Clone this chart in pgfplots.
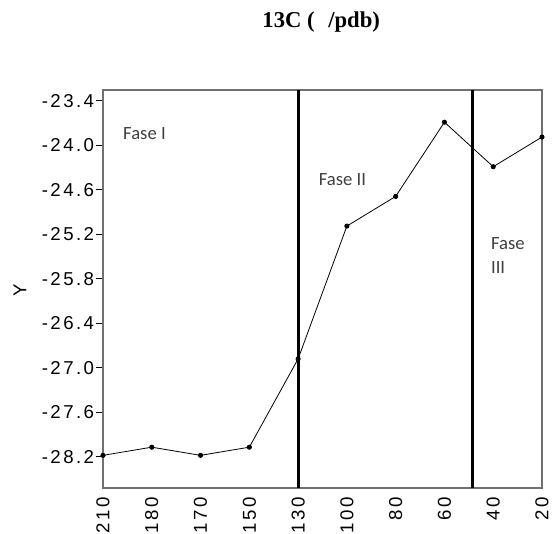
\documentclass[border=0pt]{standalone}
\usepackage{pgfplots}
\pgfplotsset{compat=1.18}
\usepackage{fontspec}
\setmainfont{Liberation Sans}
\newfontfamily\tickfont[LetterSpace=13]{Liberation Sans}
\newfontfamily\fasefont{Carlito}
\newfontfamily\titlefont{Liberation Serif}
\definecolor{framegray}{HTML}{707070}
\definecolor{fasegray}{HTML}{404040}
\begin{document}
\begin{tikzpicture}
\begin{axis}[
  scale only axis,
  width=329.25pt, height=298.5pt,
  xmin=0, xmax=9, ymin=-28.62, ymax=-23.256,
  xtick={0,1,2,3,4,5,6,7,8,9},
  xticklabels={210,180,170,150,130,100,80,60,40,20},
  ytick={-28.2,-27.6,-27.0,-26.4,-25.8,-25.2,-24.6,-24.0,-23.4},
  yticklabels={-28.2,-27.6,-27.0,-26.4,-25.8,-25.2,-24.6,-24.0,-23.4},
  xtick pos=bottom, ytick pos=left,
  tick align=outside,
  major tick length=5pt,
  xtick style={draw=none},
  ytick style={black, line width=0.6pt},
  axis line style={draw=framegray, line width=1.3pt},
  xticklabel style={rotate=90, anchor=east, font=\tickfont\fontsize{14}{14}\selectfont, text=black, inner sep=2pt},
  yticklabel style={font=\tickfont\fontsize{14}{14}\selectfont, text=black, inner sep=1.5pt},
  ylabel={Y},
  ylabel style={at={(rel axis cs:-0.189,0.497)}, anchor=center, font=\fontsize{14}{14}\selectfont},
  clip=false,
]
\addplot[black, line width=2.4pt] coordinates {(4,-28.62) (4,-23.256)};
\addplot[black, line width=2.4pt] coordinates {(7.57,-28.62) (7.57,-23.256)};
\addplot[black, line width=0.6pt, mark=*, mark size=1.6pt] coordinates {
(0,-28.18) (1,-28.07) (2,-28.18) (3,-28.07) (4,-26.88)
(5,-25.09) (6,-24.69) (7,-23.69) (8,-24.29) (9,-23.89)};
\node[anchor=west, inner sep=0pt, text=fasegray, font=\fasefont\fontsize{14}{14}\selectfont] at (axis cs:0.409,-23.845) {Fase I};
\node[anchor=west, inner sep=0pt, text=fasegray, font=\fasefont\fontsize{14}{14}\selectfont] at (axis cs:4.42,-24.47) {Fase II};
\node[anchor=west, inner sep=0pt, align=left, text=fasegray, font=\fasefont\fontsize{14}{18}\selectfont] at (axis cs:7.95,-25.49) {Fase\\III};
\node[font=\titlefont\bfseries\fontsize{17}{17}\selectfont] at (rel axis cs:0.497,1.171) {13C\hspace{0.25em}(\hspace{0.6em}/pdb)};
\end{axis}
\pgfresetboundingbox
\path ([shift={(-77.25pt,-34.5pt)}]current axis.south west) rectangle ([shift={(337.5pt,366pt)}]current axis.south west);
\end{tikzpicture}
\end{document}
